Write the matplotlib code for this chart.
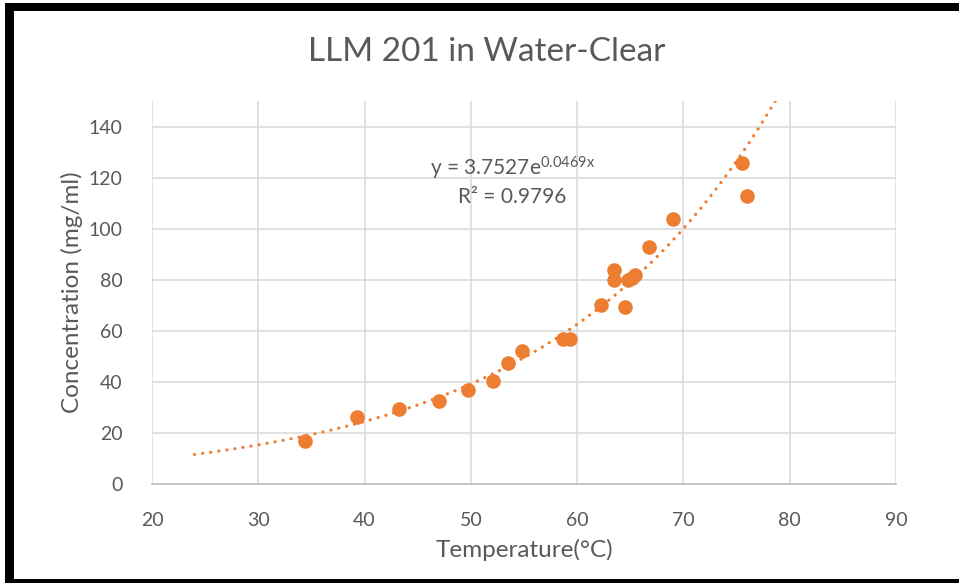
import numpy as np
import matplotlib
matplotlib.use("Agg")
import matplotlib.pyplot as plt
from matplotlib.patches import Rectangle

plt.rcParams['font.family'] = ['Lato', 'DejaVu Sans']
plt.rcParams['mathtext.fontset'] = 'custom'
plt.rcParams['mathtext.rm'] = 'Lato'
plt.rcParams['mathtext.it'] = 'Lato'

# Measured points
temperature = [34.4, 39.3, 43.2, 47.0, 49.7, 52.1, 53.5, 54.8, 58.7, 59.3,
               62.2, 63.5, 63.5, 64.5, 64.8, 65.2, 65.4, 66.8, 69.0, 75.55, 76.0]
concentration = [16.9, 26.3, 29.4, 32.7, 36.9, 40.5, 47.2, 51.9, 56.9, 56.9,
                 70.3, 83.9, 80.0, 69.5, 80.0, 80.7, 82.0, 92.7, 103.9, 125.6, 112.8]

# Exponential trendline (coefficients as printed on the chart)
fit_a = 3.7527
fit_b = 0.0469
fit_start = 24.0

orange = '#ED7D31'
text_col = '#595959'

fig = plt.figure(figsize=(9.59, 5.83), dpi=100)
ax = fig.add_axes([152 / 959, 1 - 484 / 583, (896 - 152) / 959, (484 - 101) / 583])

x_end = np.log(150 / fit_a) / fit_b
xs = np.linspace(fit_start, x_end, 300)
ax.plot(xs, fit_a * np.exp(fit_b * xs), color=orange, lw=2.3,
        linestyle=(0, (0.05, 2.5)), dash_capstyle='round', zorder=2)
ax.plot(temperature, concentration, 'o', color=orange, markersize=10.5,
        markeredgewidth=0, zorder=3)

ax.set_xlim(20, 90)
ax.set_ylim(0, 150)
ax.set_xticks(range(20, 91, 10))
ax.set_yticks(range(0, 141, 20))
ax.grid(True, color='#D9D9D9', lw=1.1)
ax.set_axisbelow(True)
for s in ['left', 'right', 'top']:
    ax.spines[s].set_visible(False)
ax.spines['bottom'].set_color('#BFBFBF')
ax.spines['bottom'].set_linewidth(1.2)
ax.tick_params(length=0, labelsize=14, labelcolor=text_col)
ax.tick_params(axis='x', pad=20)
ax.tick_params(axis='y', pad=21)

ax.set_xlabel('Temperature(°C)', fontsize=17.5, color=text_col, labelpad=7)
ax.set_ylabel('Concentration (mg/ml)', fontsize=17.5, color=text_col, labelpad=4)

fig.text(487 / 959, 1 - 52 / 583, 'LLM 201 in Water-Clear', fontsize=24,
         color=text_col, ha='center', va='center')

ax.text(0.484, 0.825, r'y = 3.7527e$^{0.0469x}$', transform=ax.transAxes,
        fontsize=15, color=text_col, ha='center', va='center')
ax.text(0.484, 0.749, 'R² = 0.9796', transform=ax.transAxes,
        fontsize=15, color=text_col, ha='center', va='center')

# black frame around the chart
frame = dict(transform=fig.transFigure, color='black', lw=0, clip_on=False)
fig.patches.append(Rectangle((5 / 959, 0), 9 / 959, 1 - 3 / 583, **frame))
fig.patches.append(Rectangle((5 / 959, 1 - 11 / 583), 1, 8 / 583, **frame))
fig.patches.append(Rectangle((5 / 959, 0), 1, 4 / 583, **frame))

fig.savefig('out.png', dpi=100)
